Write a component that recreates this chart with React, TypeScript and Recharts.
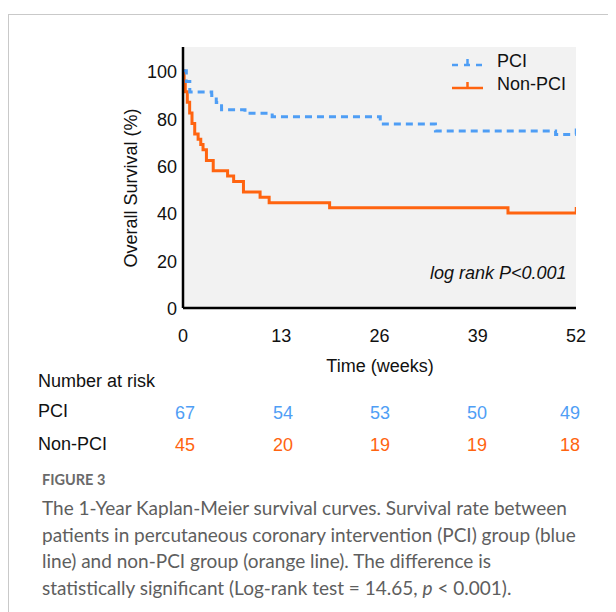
import React from "react";
import {
  CartesianGrid,
  Legend,
  Line,
  LineChart,
  XAxis,
  YAxis,
} from "recharts";

// Kaplan-Meier steps (weeks, % surviving)
const pciWeeks = [0, 0.44, 0.9, 3.8, 4.4, 5.1, 8.2, 11.8, 26.1, 33.4, 49.3, 52];
const pciSurvival = [100, 95.5, 91.0, 89.6, 86.6, 83.6, 82.1, 80.6, 77.6, 74.6, 73.1, 73.1];

const nonPciWeeks = [
  0, 0.15, 0.3, 0.57, 0.88, 1.19, 1.55, 2.0, 2.35, 2.65, 3.1, 4.0, 5.9, 6.7, 8.0,
  10.2, 11.4, 19.4, 43.0, 52,
];
const nonPciSurvival = [
  100, 95.6, 91.1, 86.7, 82.2, 77.8, 73.3, 71.1, 68.9, 66.7, 62.2, 57.8, 55.6, 53.3,
  48.9, 46.7, 44.4, 42.2, 40.0, 40.0,
];

const weekTicks = [0, 13, 26, 39, 52];
const survivalTicks = [0, 20, 40, 60, 80, 100];

const riskPci = [67, 54, 53, 50, 49];
const riskNonPci = [45, 20, 19, 19, 18];

const captionLines = [
  "The 1-Year Kaplan-Meier survival curves. Survival rate between",
  "patients in percutaneous coronary intervention (PCI) group (blue",
  "line) and non-PCI group (orange line). The difference is",
];

const BLUE = "#4f9ef5";
const ORANGE = "#ff6410";
const FONT = "'Liberation Sans', Arial, sans-serif";
const CAPTION_FONT = "Lato, 'Open Sans', sans-serif";
const FS = 18;

const toPoints = (weeks: number[], surv: number[]) =>
  weeks.map((t, i) => ({ t, s: surv[i], censor: i === weeks.length - 1 }));

const pciData = toPoints(pciWeeks, pciSurvival);
const nonPciData = toPoints(nonPciWeeks, nonPciSurvival);

// small vertical censor tick at the end of each curve
const censorDot = (color: string) => (props: any) => {
  const { cx, cy, payload, index } = props;
  if (!payload || !payload.censor) return <g key={index} />;
  return (
    <line key={index} x1={cx} x2={cx} y1={cy} y2={cy - 6} stroke={color} strokeWidth={2.5} />
  );
};

const LegendContent = () => {
  const rows = [
    { name: "PCI", color: BLUE, dash: "6 6" },
    { name: "Non-PCI", color: ORANGE, dash: undefined },
  ];
  return (
    <div style={{ fontFamily: FONT, fontSize: FS, color: "#111" }}>
      {rows.map((r) => (
        <div key={r.name} style={{ display: "flex", alignItems: "center", height: 23 }}>
          <svg width={45} height={16} style={{ display: "block" }}>
            <line x1={0} x2={31} y1={11} y2={11} stroke={r.color} strokeWidth={2.5} strokeDasharray={r.dash} />
            <line x1={15.5} x2={15.5} y1={11} y2={5} stroke={r.color} strokeWidth={2.5} />
          </svg>
          <span>{r.name}</span>
        </div>
      ))}
    </div>
  );
};

const abs = (left: number, top: number, extra: React.CSSProperties = {}): React.CSSProperties => ({
  position: "absolute",
  left,
  top,
  whiteSpace: "nowrap",
  lineHeight: "20px",
  ...extra,
});

const riskCols = [177, 275, 372, 469, 562];

const App = () => {
  return (
    <div style={{ position: "relative", width: 608, height: 604, overflow: "hidden", fontFamily: FONT }}>
      <div
        style={{
          position: "absolute",
          left: 0,
          top: 6,
          width: 640,
          height: 640,
          borderTop: "1.5px solid #c9c9c9",
          borderLeft: "1.5px solid #c9c9c9",
        }}
      />
      <div style={{ position: "absolute", left: 0, top: 0 }}>
        <LineChart width={600} height={340} margin={{ top: 39, right: 32, left: 125, bottom: 10 }}>
          <CartesianGrid horizontal={false} vertical={false} fill="#f2f2f2" />
          <XAxis
            type="number"
            dataKey="t"
            domain={[0, 52]}
            ticks={weekTicks}
            allowDataOverflow
            tickLine={false}
            tickSize={0}
            tickMargin={21}
            height={30}
            axisLine={{ stroke: "#000", strokeWidth: 2.5 }}
            tick={{ fill: "#111", fontSize: FS, fontFamily: FONT }}
          />
          <YAxis
            type="number"
            dataKey="s"
            domain={[0, 110]}
            ticks={survivalTicks}
            allowDataOverflow
            tickLine={false}
            tickSize={0}
            tickMargin={6}
            width={50}
            axisLine={{ stroke: "#000", strokeWidth: 2.5 }}
            tick={{ fill: "#111", fontSize: FS, fontFamily: FONT, dy: 1 }}
          />
          <Legend
            layout="horizontal"
            verticalAlign="middle"
            align="center"
            wrapperStyle={{ left: 444, top: 42, width: 150 }}
            content={<LegendContent />}
          />
          <Line
            data={nonPciData}
            dataKey="s"
            name="Non-PCI"
            type="stepAfter"
            stroke={ORANGE}
            strokeWidth={3}
            dot={censorDot(ORANGE)}
            activeDot={false}
            isAnimationActive={false}
          />
          <Line
            data={pciData}
            dataKey="s"
            name="PCI"
            type="stepAfter"
            stroke={BLUE}
            strokeWidth={3}
            strokeDasharray="7 5"
            dot={censorDot(BLUE)}
            activeDot={false}
            isAnimationActive={false}
          />
        </LineChart>
      </div>

      <div
        style={abs(123 - 90, 180 - 10, {
          width: 180,
          textAlign: "center",
          transform: "rotate(-90deg)",
          fontSize: FS,
          color: "#111",
        })}
      >
        Overall Survival (%)
      </div>
      <div style={abs(422, 255, { fontSize: FS, fontStyle: "italic", color: "#111" })}>
        log rank P&lt;0.001
      </div>
      <div style={abs(372 - 60, 348, { width: 120, textAlign: "center", fontSize: FS, color: "#111" })}>
        Time (weeks)
      </div>

      <div style={abs(30, 363, { fontSize: FS, color: "#111" })}>Number at risk</div>
      <div style={abs(30, 393, { fontSize: FS, color: "#111" })}>PCI</div>
      <div style={abs(30, 426, { fontSize: FS, color: "#111" })}>Non-PCI</div>
      {riskPci.map((v, i) => (
        <div key={"p" + i} style={abs(riskCols[i] - 20, 395, { width: 40, textAlign: "center", fontSize: FS, color: BLUE })}>
          {v}
        </div>
      ))}
      {riskNonPci.map((v, i) => (
        <div key={"n" + i} style={abs(riskCols[i] - 20, 427, { width: 40, textAlign: "center", fontSize: FS, color: ORANGE })}>
          {v}
        </div>
      ))}

      <div
        style={abs(34, 462, {
          fontFamily: CAPTION_FONT,
          fontSize: 14.5,
          fontWeight: 700,
          color: "#6a6a6a",
        })}
      >
        FIGURE 3
      </div>
      {captionLines.map((line, i) => (
        <div
          key={i}
          style={abs(34, 490 + i * 26.5, {
            fontFamily: CAPTION_FONT,
            fontSize: 19,
            color: "#5e5e5e",
          })}
        >
          {line}
        </div>
      ))}
      <div style={abs(34, 490 + 3 * 26.5, { fontFamily: CAPTION_FONT, fontSize: 19, color: "#5e5e5e" })}>
        statistically significant (Log-rank test = 14.65, <i>p</i> &lt; 0.001).
      </div>
    </div>
  );
};

export default App;
